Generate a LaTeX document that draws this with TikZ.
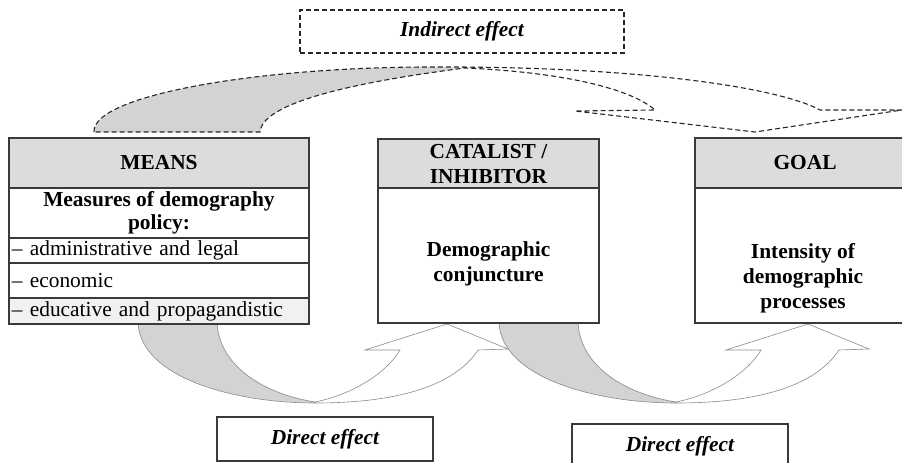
\documentclass[tikz,border=0pt]{standalone}
\usepackage{fontspec}
\setmainfont{Liberation Serif}
\usetikzlibrary{arrows.meta,calc}

\definecolor{hdrgray}{HTML}{DCDCDD}
\definecolor{tailgray}{HTML}{D3D3D5}
\definecolor{rowgray}{HTML}{F1F1F2}
\definecolor{boxline}{HTML}{3A3A3A}
\definecolor{arrline}{HTML}{8A8A8A}

\begin{document}
\begin{tikzpicture}[x=1pt, y=-1pt, font=\fontsize{21.4}{25}\selectfont,
		box/.style={draw=boxline, line width=1.2pt, fill=white, inner sep=0pt, align=center},
		hdr/.style={box, fill=hdrgray, minimum height=50pt, font=\fontsize{21.4}{25}\selectfont\bfseries},
		row/.style={box, inner xsep=3pt, text width=294pt, align=left},
		effect/.style={box, minimum width=216pt, minimum height=44pt, font=\fontsize{21.4}{25}\selectfont\bfseries\itshape},
		bold/.style={font=\fontsize{21.4}{25}\selectfont\bfseries, align=center},
		thinline/.style={draw=arrline, line width=0.6pt},
		indirect/.style={draw=black!85, line width=1.1pt, dash pattern=on 5pt off 3pt}]
	\useasboundingbox (0,0) rectangle (902,463);
	\clip (0,0) rectangle (902,463);

	% indirect effect (dashed curved arrow)
	\fill[tailgray] (94,132) .. controls (92,95) and (260,67) .. (430,67) -- (465,68) .. controls (340,84) and (262,105) .. (260,132) -- cycle;
	\draw[indirect] (94,132) .. controls (92,95) and (260,67) .. (430,67) .. controls (640,66) and (780,88) .. (820,110) -- (902,110) -- (755,132) -- (575,111) -- (655,110) .. controls (630,88) and (560,72) .. (465,68) .. controls (340,84) and (262,105) .. (260,132) -- cycle;
	\node[box, draw=black!85, line width=1.1pt, dash pattern=on 5pt off 3pt, minimum width=324pt, minimum height=43pt, font=\fontsize{21.4}{25}\selectfont\bfseries\itshape] (indirect) at (462,31.5) {Indirect effect};

	% direct effects (curved arrows below)
	\foreach \dx in {0,361} {
		\begin{scope}[xshift=\dx]
			\fill[tailgray] (138,323) .. controls (141,378) and (235,403) .. (315,403) -- (315,402) .. controls (270,395) and (220,370) .. (217,323) -- cycle;
			\draw[thinline] (138,323) .. controls (141,378) and (235,403) .. (315,403) .. controls (400,403) and (455,385) .. (478,350) -- (508,349) -- (447,324) -- (365,350) -- (400,350) .. controls (385,375) and (350,395) .. (315,402) .. controls (270,395) and (220,370) .. (217,323);
		\end{scope}
	}

	% means
	\node[hdr, minimum width=300pt] (meanshead) at (159,163) {MEANS};
	\node[box, minimum width=300pt, minimum height=50pt, font=\fontsize{21.4}{23}\selectfont\bfseries] (meanstitle) at (159,213) {Measures of demography\\policy:};
	\node[row, minimum height=25pt] (admin) at (159,250.5) {-- administrative and legal};
	\node[row, minimum height=35pt] (econ) at (159,280.5) {-- economic};
	\node[row, minimum height=26pt, fill=rowgray] (educ) at (159,311) {-- educative and propagandistic};

	% catalist / inhibitor
	\node[hdr, minimum width=221pt] (cathead) at (488.5,164) {CATALIST /\\INHIBITOR};
	\node[box, minimum width=221pt, minimum height=135pt] (catbody) at (488.5,255.5) {};
	\node[bold] (cattext) at (488.5,264) {Demographic\\conjuncture};

	% goal
	\node[hdr, minimum width=220pt] (goalhead) at (805,163) {GOAL};
	\node[box, minimum width=220pt, minimum height=135pt] (goalbody) at (805,255.5) {};
	\node[bold] (goaltext) at (803,278) {Intensity of\\demographic\\processes};

	\node[effect] (direct1) at (325,439) {Direct effect};
	\node[effect] (direct2) at (680,446) {Direct effect};
\end{tikzpicture}
\end{document}
